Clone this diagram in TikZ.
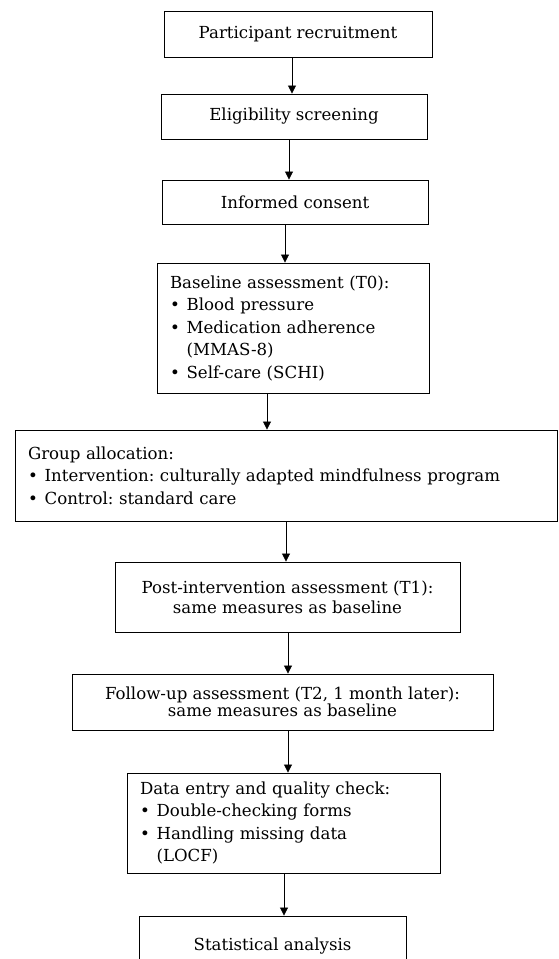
\documentclass[tikz,border=0pt]{standalone}
\usepackage{fontspec}
\setmainfont{DejaVu Serif}
\usetikzlibrary{arrows.meta}
\newcommand{\bul}[1]{\par\hangindent=1em\hangafter=1\noindent\makebox[1em][l]{•}#1\par}

\begin{document}
\frenchspacing
\begin{tikzpicture}[x=1pt, y=-1pt,
    box/.style={draw, line width=0.9pt, inner sep=0pt, font=\fontsize{16.6}{22.5}\selectfont, align=center},
    listbox/.style={box, align=left, inner xsep=13pt},
    arrow/.style={-{Triangle[length=8pt,width=8pt]}, line width=0.8pt},]
        \useasboundingbox (0,0) rectangle (558,959);
        \clip (0,0) rectangle (558,959);
        % steps of the study, top to bottom
        \node[box, minimum width=268pt, minimum height=46pt] (recruit) at (298,34) {Participant recruitment};
        \node[box, minimum width=266pt, minimum height=45pt] (screen) at (294,116.5) {Eligibility screening};
        \node[box, minimum width=266pt, minimum height=44pt] (consent) at (295,202) {Informed consent};
        \node[listbox, text width=246pt, minimum height=130pt] (base) at (293,328) {Baseline assessment (T0):
            \bul{Blood pressure}
            \bul{Medication adherence\newline (MMAS-8)}
            \bul{Self-care (SCHI)}};
        \node[listbox, text width=516pt, minimum height=91pt] (group) at (286,475.5) {Group allocation:
            \bul{Intervention: culturally adapted mindfulness program}
            \bul{Control: standard care}};
        \node[box, minimum width=345pt, minimum height=70pt, font=\fontsize{16.6}{20}\selectfont] (post) at (287.5,597) {Post-intervention assessment (T1):\\ same measures as baseline};
        \node[box, minimum width=421pt, minimum height=56pt, font=\fontsize{16.6}{15.5}\selectfont] (follow) at (282.5,702) {Follow-up assessment (T2, 1 month later):\\ same measures as baseline};
        \node[listbox, text width=287pt, minimum height=100pt] (entry) at (283.5,823) {Data entry and quality check:
            \bul{Double-checking forms}
            \bul{Handling missing data\newline (LOCF)}};
        \node[box, minimum width=267pt, minimum height=60pt] (stats) at (272.5,946) {Statistical analysis};
        % connectors
        \draw[arrow] (recruit.south -| 292,0) -- (screen.north -| 292,0);
        \draw[arrow] (screen.south -| 289,0) -- (consent.north -| 289,0);
        \draw[arrow] (consent.south -| 285,0) -- (base.north -| 285,0);
        \draw[arrow] (base.south -| 267,0) -- (group.north -| 267,0);
        \draw[arrow] (group.south -| 286,0) -- (post.north -| 286,0);
        \draw[arrow] (post.south -| 288,0) -- (follow.north -| 288,0);
        \draw[arrow] (follow.south -| 288,0) -- (entry.north -| 288,0);
        \draw[arrow] (entry.south -| 284,0) -- (stats.north -| 284,0);
      \end{tikzpicture}
\end{document}
